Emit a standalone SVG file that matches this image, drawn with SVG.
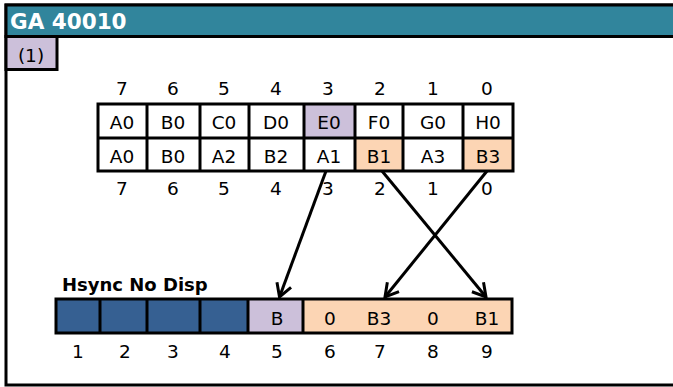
<svg xmlns="http://www.w3.org/2000/svg" width="673" height="387" viewBox="0 0 673 387">
<defs>
<style>
.t{font-family:"DejaVu Sans","Liberation Sans",sans-serif;font-size:18.5px;fill:#000;text-anchor:middle}
.b{font-family:"DejaVu Sans","Liberation Sans",sans-serif;font-weight:bold}
.cell{stroke:#000;stroke-width:3}
.conn{stroke:#000;stroke-width:3;fill:none;marker-end:url(#ah)}
</style>
<marker id="ah" markerUnits="userSpaceOnUse" viewBox="-16 -10 18 20" refX="0" refY="0" markerWidth="18" markerHeight="20" orient="auto">
<path d="M-13,-7.5 L0,0 L-13,7.5" fill="none" stroke="#000" stroke-width="3"/>
</marker>
</defs>
<rect x="0" y="0" width="673" height="387" fill="#fff"/>
<g id="frame">
<rect x="6" y="5" width="700" height="380" fill="#fff" stroke="#000" stroke-width="3"/>
<rect x="6" y="5" width="700" height="31.5" fill="#31859C" stroke="#000" stroke-width="3"/>
<text x="10" y="29" class="b" font-size="21.5" fill="#fff">GA 40010</text>
</g>
<g id="label1">
<rect x="6" y="36.5" width="51" height="33" fill="#CCC0DA" stroke="#000" stroke-width="3"/>
<text x="31" y="62" class="t">(1)</text>
</g>
<g id="top-index">
<text class="t" x="122" y="95">7</text>
<text class="t" x="173" y="95">6</text>
<text class="t" x="224" y="95">5</text>
<text class="t" x="276" y="95">4</text>
<text class="t" x="328" y="95">3</text>
<text class="t" x="380" y="95">2</text>
<text class="t" x="433" y="95">1</text>
<text class="t" x="487" y="95">0</text>
</g>
<g id="table">
<rect x="98" y="104" width="415" height="67" fill="#fff"/>
<rect x="304" y="104" width="51" height="34" fill="#CCC0DA"/>
<rect x="355" y="138" width="48" height="33" fill="#FCD5B4"/>
<rect x="463" y="138" width="50" height="33" fill="#FCD5B4"/>
<g class="cell" fill="none">
<rect x="98" y="104" width="415" height="67"/>
<line x1="98" y1="138" x2="513" y2="138"/>
<line x1="147" y1="104" x2="147" y2="171"/>
<line x1="200" y1="104" x2="200" y2="171"/>
<line x1="249" y1="104" x2="249" y2="171"/>
<line x1="304" y1="104" x2="304" y2="171"/>
<line x1="355" y1="104" x2="355" y2="171"/>
<line x1="403" y1="104" x2="403" y2="171"/>
<line x1="463" y1="104" x2="463" y2="171"/>
</g>
<text class="t" x="122" y="129">A0</text>
<text class="t" x="173" y="129">B0</text>
<text class="t" x="224" y="129">C0</text>
<text class="t" x="276" y="129">D0</text>
<text class="t" x="329" y="129">E0</text>
<text class="t" x="379" y="129">F0</text>
<text class="t" x="433" y="129">G0</text>
<text class="t" x="488" y="129">H0</text>
<text class="t" x="122" y="163">A0</text>
<text class="t" x="173" y="163">B0</text>
<text class="t" x="224" y="163">A2</text>
<text class="t" x="276" y="163">B2</text>
<text class="t" x="329" y="163">A1</text>
<text class="t" x="379" y="163">B1</text>
<text class="t" x="433" y="163">A3</text>
<text class="t" x="488" y="163">B3</text>
</g>
<g id="bottom-index">
<text class="t" x="122" y="195">7</text>
<text class="t" x="173" y="195">6</text>
<text class="t" x="224" y="195">5</text>
<text class="t" x="276" y="195">4</text>
<text class="t" x="328" y="195">3</text>
<text class="t" x="380" y="195">2</text>
<text class="t" x="433" y="195">1</text>
<text class="t" x="487" y="195">0</text>
</g>
<g id="hsync">
<text x="62" y="291" class="b" font-size="18">Hsync No Disp</text>
<rect x="56" y="299" width="192" height="34" fill="#366092"/>
<rect x="248" y="299" width="55" height="34" fill="#CCC0DA"/>
<rect x="303" y="299" width="209" height="34" fill="#FCD5B4"/>
<g class="cell" fill="none">
<rect x="56" y="299" width="456" height="34"/>
<line x1="100" y1="299" x2="100" y2="333"/>
<line x1="147" y1="299" x2="147" y2="333"/>
<line x1="200" y1="299" x2="200" y2="333"/>
<line x1="248" y1="299" x2="248" y2="333"/>
<line x1="303" y1="299" x2="303" y2="333"/>
</g>
<text class="t" x="277" y="325">B</text>
<text class="t" x="330" y="325">0</text>
<text class="t" x="379" y="325">B3</text>
<text class="t" x="433" y="325">0</text>
<text class="t" x="487" y="325">B1</text>
<text class="t" x="78" y="358">1</text>
<text class="t" x="125" y="358">2</text>
<text class="t" x="173" y="358">3</text>
<text class="t" x="225" y="358">4</text>
<text class="t" x="277" y="358">5</text>
<text class="t" x="330" y="358">6</text>
<text class="t" x="380" y="358">7</text>
<text class="t" x="433" y="358">8</text>
<text class="t" x="487" y="358">9</text>
</g>
<g id="connectors">
<line class="conn" x1="326" y1="171" x2="279.5" y2="297"/>
<line class="conn" x1="382" y1="171" x2="486" y2="297"/>
<line class="conn" x1="487" y1="171" x2="385" y2="297"/>
</g>
</svg>
